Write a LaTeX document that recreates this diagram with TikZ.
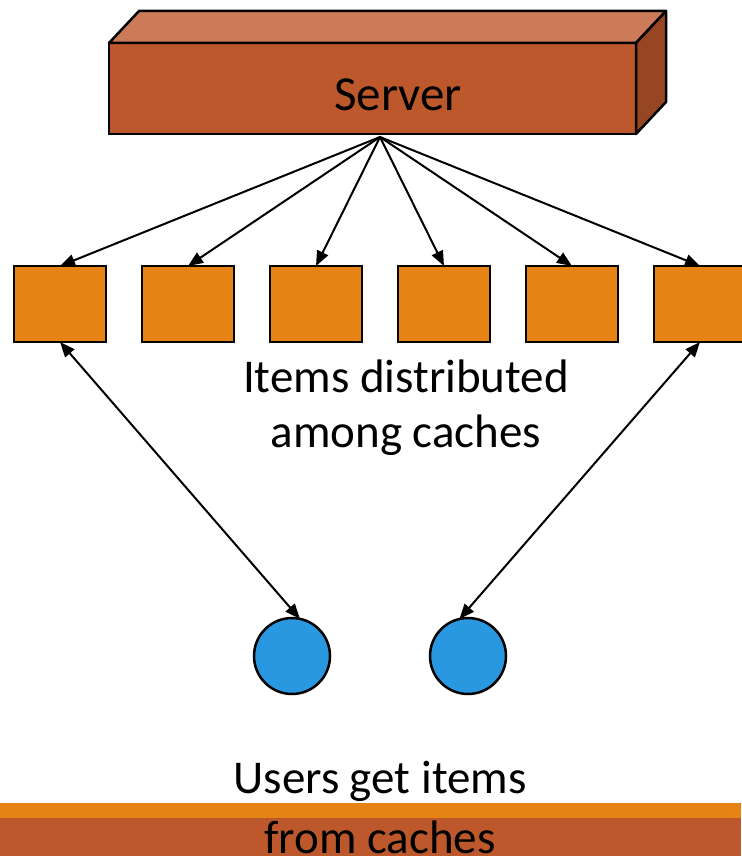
\documentclass[tikz,border=0pt]{standalone}
\usepackage{fontspec}
\setmainfont{Carlito}
\usetikzlibrary{arrows.meta,positioning}

\definecolor{serverfront}{HTML}{BD582C}
\definecolor{servertop}{HTML}{CB7B58}
\definecolor{serverside}{HTML}{974623}
\definecolor{cacheorange}{HTML}{E58314}
\definecolor{userblue}{HTML}{2A98E0}

\begin{document}
\begin{tikzpicture}[
  x=1pt,y=-1pt,
  node distance=36pt,
  cache/.style={draw,line width=2.5pt,fill=cacheorange,minimum width=92pt,
                minimum height=76pt,inner sep=0pt,outer sep=0pt},
  user/.style={circle,draw,line width=2.5pt,fill=userblue,minimum size=76pt,
               inner sep=0pt,outer sep=0pt},
  lbl/.style={font=\fontsize{47}{55}\selectfont,align=center,inner sep=0pt,anchor=base},
  arr/.style={-{Triangle[length=15pt,width=12pt]},line width=2pt},
  dbl/.style={{Triangle[length=15pt,width=12pt]}-{Triangle[length=15pt,width=12pt]},
              line width=2pt}
]
\useasboundingbox (0,0) rectangle (741,856);

% server block
\node[draw,line width=2.5pt,fill=serverfront,minimum width=527pt,minimum height=91pt,
      inner sep=0pt,outer sep=0pt] (server) at (372.5,88.5) {};
\draw[line width=2.5pt,line join=round,fill=servertop]
  (server.north west) -- ++(30,-32) -- ++(527,0) -- (server.north east) -- cycle;
\draw[line width=2.5pt,line join=round,fill=serverside]
  (server.north east) -- ++(30,-32) -- ++(0,91) -- (server.south east) -- cycle;
\node[lbl,font=\fontsize{49}{55}\selectfont] (servername) at (398,111) {Server};
\coordinate (hub) at (380,137);

% caches
\node[cache] (cache1) at (60,304) {};
\node[cache,right=of cache1] (cache2) {};
\node[cache,right=of cache2] (cache3) {};
\node[cache,right=of cache3] (cache4) {};
\node[cache,right=of cache4] (cache5) {};
\node[cache,right=of cache5] (cache6) {};
\foreach \i in {1,...,6}
  \draw[arr] (hub) -- (cache\i.north);

% base = baseline of the last line
\node[lbl] (itemsnote) at (406,447) {Items distributed\\among caches};

% users
\node[user] (user1) at (292,656) {};
\node[user] (user2) at (468,656) {};
\draw[dbl] (cache1.south) -- (user1.78);
\draw[dbl] (cache6.south) -- (user2.103);

% bottom bands
\fill[cacheorange] (0,803) rectangle (741,818);
\fill[serverfront] (0,818) rectangle (741,856);
\node[lbl,font=\fontsize{47}{60}\selectfont] (usersnote) at (380,853)
  {Users get items\\from caches};
\end{tikzpicture}
\end{document}
